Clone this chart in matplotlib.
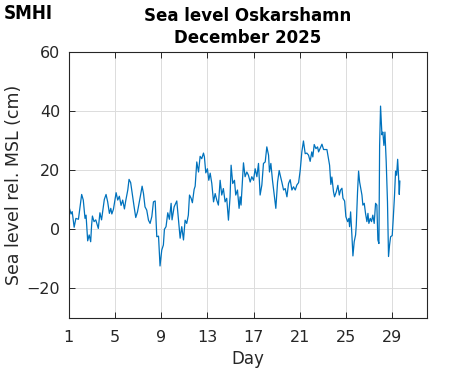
import matplotlib
matplotlib.use("Agg")
import matplotlib.pyplot as plt

plt.rcParams['font.family'] = ['DejaVu Sans']

# Time in days of December 2025, sea level (cm) relative to MSL
days = [
    1.00, 1.20, 1.30, 1.47, 1.62, 1.84, 2.12, 2.26, 2.41, 2.50, 2.64, 2.77, 2.90, 2.98,
    3.05, 3.19, 3.34, 3.56, 3.70, 3.84, 4.08, 4.23, 4.37, 4.52, 4.64, 4.73, 4.87, 5.10,
    5.24, 5.38, 5.53, 5.67, 5.82, 5.93, 6.11, 6.22, 6.36, 6.51, 6.66, 6.80, 6.95, 7.09,
    7.24, 7.35, 7.47, 7.60, 7.75, 7.90, 8.04, 8.19, 8.33, 8.48, 8.62, 8.77, 8.90, 9.05,
    9.19, 9.28, 9.42, 9.57, 9.71, 9.86, 9.94, 10.12, 10.26, 10.35, 10.50,
    10.64, 10.78, 10.93, 11.07, 11.21, 11.35, 11.45, 11.59, 11.70, 11.85, 11.94, 12.08,
    12.23, 12.37, 12.51, 12.66, 12.74, 12.86, 13.00, 13.12, 13.24, 13.38, 13.53, 13.67,
    13.81, 13.95, 14.10, 14.24, 14.38, 14.53, 14.67, 14.82, 14.96, 15.05, 15.19, 15.34,
    15.45, 15.60, 15.74, 15.83, 15.91, 16.03, 16.12, 16.26, 16.41, 16.55, 16.70, 16.84,
    16.99, 17.13, 17.28, 17.42, 17.56, 17.71, 17.85, 18.00, 18.14, 18.29, 18.37, 18.49,
    18.63, 18.78, 18.92, 19.07, 19.21, 19.30, 19.44, 19.59, 19.73, 19.88, 20.02, 20.16,
    20.31, 20.45, 20.60, 20.74, 20.89, 21.03, 21.17, 21.31, 21.46, 21.60, 21.75,
    21.89, 22.03, 22.12, 22.24, 22.39, 22.53, 22.62, 22.77, 22.91, 23.05, 23.20, 23.34,
    23.49, 23.57, 23.68, 23.77, 23.91, 24.00, 24.15, 24.29, 24.41, 24.52, 24.64, 24.73,
    24.87, 24.98, 25.13, 25.24, 25.30, 25.39, 25.50, 25.59, 25.70, 25.82, 25.88, 25.99,
    26.08, 26.17, 26.25, 26.37, 26.45, 26.57, 26.68, 26.80, 26.89, 26.97, 27.09, 27.20,
    27.31, 27.43, 27.55, 27.66, 27.75, 27.84, 27.90, 27.98, 28.10, 28.18, 28.27, 28.36,
    28.47, 28.58, 28.67, 28.76, 28.85, 28.99, 29.08, 29.19, 29.28, 29.37, 29.46, 29.54,
    29.60, 29.65,
]
level = [
    7.9, 5.2, 6.0, 0.7, 3.7, 3.4, 11.8, 9.9, 3.7, 4.8, -3.9, -1.9, -4.2, 1.4,
    4.5, 2.6, 3.2, 0.3, 5.6, 3.2, 10.1, 11.8, 9.3, 5.4, 7.1, 5.2, 6.8, 12.4,
    9.9, 11.2, 8.1, 9.9, 6.9, 9.6, 13.3, 16.9, 15.8, 11.6, 7.6, 4.0, 5.9, 8.8,
    12.1, 14.6, 12.1, 7.6, 6.5, 3.1, 2.0, 4.3, 9.3, 9.6, -2.5, -2.3, -12.4, -7.0,
    -5.3, 0.0, 0.9, 5.6, 3.4, 8.8, 3.2, 7.6, 8.8, 9.6, 3.2,
    -3.0, 0.9, -3.6, 3.1, 2.0, 4.8, 11.6, 10.5, 9.0, 13.5, 14.6, 22.8,
    19.4, 24.7, 23.9, 25.8, 24.5, 19.1, 20.5, 16.6, 19.0, 15.5, 9.3, 12.1,
    9.9, 8.2, 16.6, 11.6, 13.8, 9.3, 10.5, 3.1, 11.0, 21.7, 15.5, 16.6,
    11.6, 13.3, 7.1, 11.0, 8.2, 16.6, 22.5, 17.8, 19.4, 18.3, 16.0, 17.8,
    16.6, 20.5, 17.8, 22.3, 11.6, 15.0, 22.3, 22.8, 27.9, 25.1, 19.4, 22.3,
    16.6, 11.6, 7.1, 16.0, 19.9, 18.3, 16.0, 13.3, 13.8, 11.0, 15.5, 16.8,
    13.3, 14.4, 13.3, 15.0, 15.8, 20.0, 26.2, 29.9, 25.6, 25.8, 25.1,
    23.0, 26.2, 24.5, 28.7, 27.3, 27.9, 26.2, 27.5, 28.8, 27.0, 27.0, 27.0,
    23.4, 21.7, 15.2, 17.7, 12.7, 11.0, 12.7, 14.9, 11.6, 13.3, 13.9, 10.5,
    9.6, 4.3, 2.6, 3.7, 0.9, 5.9, -1.9, -9.0, -4.2, -1.9, 1.4, 12.7,
    19.7, 16.0, 14.3, 11.6, 8.2, 8.8, 5.4, 2.6, 5.4, 2.0, 3.7, 2.6,
    4.8, 2.0, 8.8, 8.2, -3.6, -4.8, 28.4, 41.7, 32.0, 32.9, 28.4, 32.9,
    22.8, 9.3, -9.2, -5.3, -2.5, -2.1, 3.7, 11.6, 19.7, 18.3, 23.7, 17.7,
    11.8, 16.3,
]

x_ticks = [1, 5, 9, 13, 17, 21, 25, 29]
y_ticks = [-20, 0, 20, 40, 60]
title_text = "Sea level Oskarshamn\nDecember 2025"
x_label = "Day"
y_label = "Sea level rel. MSL (cm)"
logo_text = "SMHI"

fig = plt.figure(figsize=(4.71, 3.71), dpi=100)
ax = fig.add_axes([0.1459, 0.1429, 0.7607, 0.7169])

ax.plot(days, level, color='#0072BD', linewidth=0.9)

ax.set_xlim(1, 32)
ax.set_ylim(-30, 60)
ax.set_xticks(x_ticks)
ax.set_yticks(y_ticks)
ax.grid(True, color='#dcdcdc', linewidth=0.7)
ax.set_axisbelow(True)
ax.tick_params(direction='in', length=4, width=0.7, top=True, right=True,
               labelsize=11.5, colors='#262626')
ax.tick_params(axis='x', pad=9)
ax.tick_params(axis='y', pad=6)
for sp in ax.spines.values():
    sp.set_linewidth(0.8)
    sp.set_color('#262626')

ax.set_title(title_text, fontsize=12, fontweight='bold', color='#000000',
             pad=6.5, linespacing=1.32)
ax.set_xlabel(x_label, fontsize=12, color='#262626', labelpad=3)
ax.set_ylabel(y_label, fontsize=12.5, color='#262626', labelpad=3)

fig.text(0.008, 0.99, logo_text, fontsize=13.5, fontweight='heavy',
         fontstretch='condensed', ha='left', va='top', color='#000000')

fig.savefig("out.png", dpi=100)
